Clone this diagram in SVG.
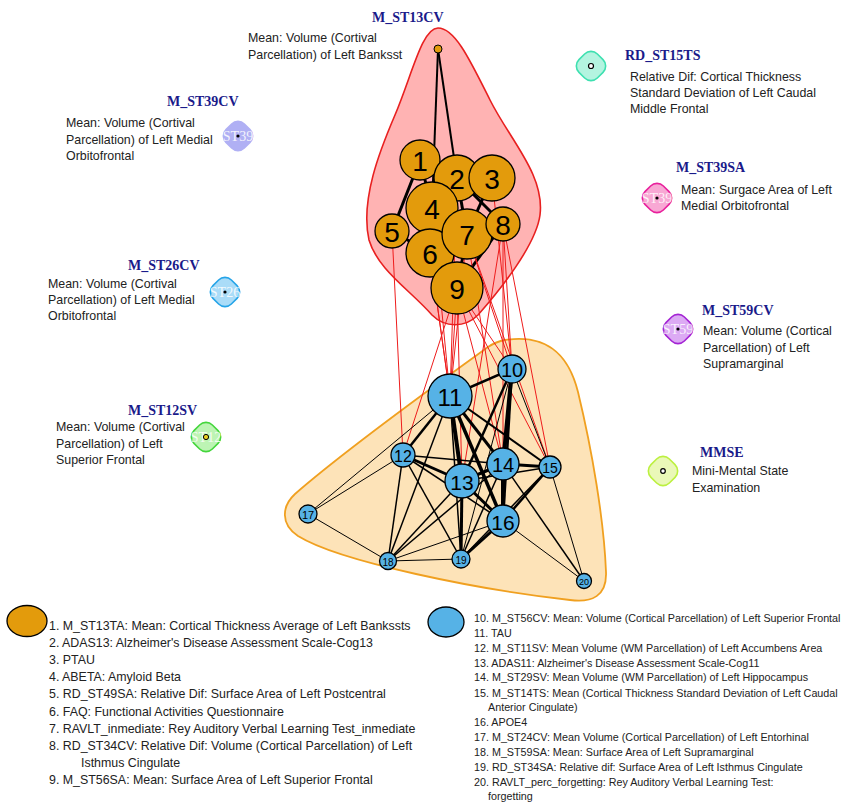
<svg xmlns="http://www.w3.org/2000/svg" width="845" height="802" viewBox="0 0 845 802">
<style>
.bg{fill:#ffffff}
.hull1{fill:#ffb3b3;stroke:#e82020;stroke-width:1.6}
.hull2{fill:#fde3b8;stroke:#f0a020;stroke-width:1.8}
.re{stroke:#ee1c1c;stroke-width:1;fill:none}
.be{stroke:#000;fill:none}
.on{fill:#e39b0c;stroke:#000;stroke-width:1.3}
.bn{fill:#56b2e6;stroke:#000;stroke-width:1.3}
.num{font-family:"Liberation Sans",Arial,sans-serif;fill:#000;text-anchor:middle;dominant-baseline:central}
.ttl{font-family:"Liberation Serif","Times New Roman",serif;font-weight:bold;font-size:14px;fill:#1a1a8a}
.dsc{font-family:"Liberation Sans",Arial,sans-serif;font-size:12.4px;fill:#222}
.iso{stroke-width:1.6}
.st{font-family:"Liberation Serif","Times New Roman",serif;font-size:14px;fill:#ffffff;text-anchor:middle;dominant-baseline:central;opacity:0.85}
.lg1{font-family:"Liberation Sans",Arial,sans-serif;font-size:12.4px;fill:#222}
.lg2{font-family:"Liberation Sans",Arial,sans-serif;font-size:10.75px;fill:#222}
</style>
<rect class="bg" x="0" y="0" width="845" height="802"/>

<g id="hull-cluster1">
<path class="hull1" d="M438,28 C455,28 470,60 490,100 C510,140 545,175 540,215 C536,245 500,290 478,315 C465,328 445,328 432,315 C410,290 378,270 369,240 C360,200 380,150 395,115 C412,75 422,28 438,28 Z"/>
</g>
<g id="hull-cluster2">
<path class="hull2" d="M505,340 C545,334 568,352 578,392 C592,450 604,520 606,572 C607,596 592,603 570,600 C480,590 340,562 298,536 C280,524 282,506 295,494 C350,446 440,382 488,347 C494,343 499,341 505,340 Z"/>
</g>

<g id="connectors">
<line class="be" stroke-width="2" x1="438" y1="49" x2="432" y2="208"/>
<line class="be" stroke-width="2" x1="438" y1="49" x2="457" y2="178"/>
<line class="be" stroke-width="3" x1="420" y1="160" x2="392" y2="231"/>
<line class="be" stroke-width="3" x1="420" y1="160" x2="432" y2="208"/>
<line class="be" stroke-width="3" x1="457" y1="178" x2="467" y2="234"/>
<line class="be" stroke-width="3" x1="492" y1="178" x2="467" y2="234"/>
<line class="be" stroke-width="3" x1="457" y1="178" x2="503" y2="224"/>
<line class="be" stroke-width="3" x1="432" y1="208" x2="503" y2="224"/>
<line class="be" stroke-width="3" x1="503" y1="224" x2="457" y2="288"/>
<line class="be" stroke-width="3" x1="430" y1="253" x2="457" y2="288"/>
<line class="be" stroke-width="3" x1="467" y1="234" x2="457" y2="288"/>
<line class="be" stroke-width="3" x1="392" y1="231" x2="430" y2="253"/>
<line class="re" x1="392" y1="231" x2="403" y2="455"/>
<line class="re" x1="432" y1="208" x2="450" y2="396"/>
<line class="re" x1="430" y1="253" x2="450" y2="396"/>
<line class="re" x1="457" y1="288" x2="450" y2="396"/>
<line class="re" x1="467" y1="234" x2="450" y2="396"/>
<line class="re" x1="457" y1="178" x2="450" y2="396"/>
<line class="re" x1="457" y1="288" x2="512" y2="369"/>
<line class="re" x1="467" y1="234" x2="512" y2="369"/>
<line class="re" x1="503" y1="224" x2="512" y2="369"/>
<line class="re" x1="492" y1="178" x2="512" y2="369"/>
<line class="re" x1="457" y1="288" x2="462" y2="481"/>
<line class="re" x1="430" y1="253" x2="462" y2="481"/>
<line class="re" x1="503" y1="224" x2="462" y2="481"/>
<line class="re" x1="467" y1="234" x2="503" y2="464"/>
<line class="re" x1="457" y1="288" x2="503" y2="464"/>
<line class="re" x1="503" y1="224" x2="503" y2="464"/>
<line class="re" x1="467" y1="234" x2="550" y2="467"/>
<line class="re" x1="503" y1="224" x2="550" y2="467"/>
<line class="re" x1="457" y1="288" x2="550" y2="467"/>
<line class="re" x1="457" y1="288" x2="403" y2="455"/>
<line class="be" stroke-width="2.5" x1="450" y1="396" x2="512" y2="369"/>
<line class="be" stroke-width="2.5" x1="450" y1="396" x2="403" y2="455"/>
<line class="be" stroke-width="4" x1="450" y1="396" x2="462" y2="481"/>
<line class="be" stroke-width="3" x1="450" y1="396" x2="503" y2="464"/>
<line class="be" stroke-width="3.5" x1="450" y1="396" x2="503" y2="521"/>
<line class="be" stroke-width="2" x1="450" y1="396" x2="550" y2="467"/>
<line class="be" stroke-width="1" x1="450" y1="396" x2="308" y2="514"/>
<line class="be" stroke-width="1.5" x1="450" y1="396" x2="388" y2="561"/>
<line class="be" stroke-width="1.5" x1="450" y1="396" x2="461" y2="559"/>
<line class="be" stroke-width="4" x1="512" y1="369" x2="503" y2="464"/>
<line class="be" stroke-width="2.5" x1="512" y1="369" x2="462" y2="481"/>
<line class="be" stroke-width="2.5" x1="512" y1="369" x2="503" y2="521"/>
<line class="be" stroke-width="1" x1="512" y1="369" x2="550" y2="467"/>
<line class="be" stroke-width="1" x1="512" y1="369" x2="461" y2="559"/>
<line class="be" stroke-width="3" x1="403" y1="455" x2="462" y2="481"/>
<line class="be" stroke-width="1.5" x1="403" y1="455" x2="503" y2="464"/>
<line class="be" stroke-width="1.5" x1="403" y1="455" x2="503" y2="521"/>
<line class="be" stroke-width="1" x1="403" y1="455" x2="308" y2="514"/>
<line class="be" stroke-width="1.5" x1="403" y1="455" x2="388" y2="561"/>
<line class="be" stroke-width="1.5" x1="403" y1="455" x2="461" y2="559"/>
<line class="be" stroke-width="3" x1="462" y1="481" x2="503" y2="464"/>
<line class="be" stroke-width="3" x1="462" y1="481" x2="503" y2="521"/>
<line class="be" stroke-width="3" x1="462" y1="481" x2="461" y2="559"/>
<line class="be" stroke-width="1.5" x1="462" y1="481" x2="388" y2="561"/>
<line class="be" stroke-width="1.5" x1="462" y1="481" x2="550" y2="467"/>
<line class="be" stroke-width="3" x1="503" y1="464" x2="550" y2="467"/>
<line class="be" stroke-width="4" x1="503" y1="464" x2="503" y2="521"/>
<line class="be" stroke-width="1.5" x1="503" y1="464" x2="388" y2="561"/>
<line class="be" stroke-width="1.5" x1="503" y1="464" x2="461" y2="559"/>
<line class="be" stroke-width="1.5" x1="503" y1="464" x2="584" y2="581"/>
<line class="be" stroke-width="2.5" x1="550" y1="467" x2="503" y2="521"/>
<line class="be" stroke-width="1.5" x1="550" y1="467" x2="461" y2="559"/>
<line class="be" stroke-width="1" x1="550" y1="467" x2="584" y2="581"/>
<line class="be" stroke-width="3" x1="503" y1="521" x2="461" y2="559"/>
<line class="be" stroke-width="1" x1="503" y1="521" x2="388" y2="561"/>
<line class="be" stroke-width="1" x1="503" y1="521" x2="584" y2="581"/>
<line class="be" stroke-width="1" x1="308" y1="514" x2="388" y2="561"/>
<line class="be" stroke-width="1" x1="388" y1="561" x2="461" y2="559"/>
</g>

<g id="node-M_ST13CV">
<circle cx="438" cy="49" r="4" fill="#e39b0c" stroke="#000" stroke-width="1"/>
<text class="ttl" x="372" y="22">M_ST13CV</text>
<text class="dsc" x="248" y="42">Mean: Volume (Cortival</text>
<text class="dsc" x="248" y="59">Parcellation) of Left Banksst</text>
</g>

<g id="node-1"><circle class="on" cx="420" cy="160" r="20"/><text class="num" x="420" y="161" font-size="28">1</text></g>
<g id="node-2"><circle class="on" cx="457" cy="178" r="23"/><text class="num" x="457" y="179" font-size="28">2</text></g>
<g id="node-3"><circle class="on" cx="492" cy="178" r="23"/><text class="num" x="492" y="179" font-size="28">3</text></g>
<g id="node-4"><circle class="on" cx="432" cy="208" r="26"/><text class="num" x="432" y="209" font-size="28">4</text></g>
<g id="node-6"><circle class="on" cx="430" cy="253" r="24"/><text class="num" x="430" y="254" font-size="28">6</text></g>
<g id="node-5"><circle class="on" cx="392" cy="231" r="17"/><text class="num" x="392" y="232" font-size="28">5</text></g>
<g id="node-7"><circle class="on" cx="467" cy="234" r="25"/><text class="num" x="467" y="235" font-size="28">7</text></g>
<g id="node-8"><circle class="on" cx="503" cy="224" r="17"/><text class="num" x="503" y="225" font-size="28">8</text></g>
<g id="node-9"><circle class="on" cx="457" cy="288" r="26"/><text class="num" x="457" y="289" font-size="28">9</text></g>

<g id="node-10"><circle class="bn" cx="512" cy="369" r="14"/><text class="num" x="512" y="370" font-size="20">10</text></g>
<g id="node-11"><circle class="bn" cx="450" cy="396" r="22"/><text class="num" x="450" y="397" font-size="24">11</text></g>
<g id="node-12"><circle class="bn" cx="403" cy="455" r="12"/><text class="num" x="403" y="456" font-size="16">12</text></g>
<g id="node-14"><circle class="bn" cx="503" cy="464" r="16"/><text class="num" x="503" y="465" font-size="20">14</text></g>
<g id="node-13"><circle class="bn" cx="462" cy="481" r="17"/><text class="num" x="462" y="482" font-size="21">13</text></g>
<g id="node-15"><circle class="bn" cx="550" cy="467" r="11"/><text class="num" x="550" y="468" font-size="14">15</text></g>
<g id="node-16"><circle class="bn" cx="503" cy="521" r="16"/><text class="num" x="503" y="522" font-size="21">16</text></g>
<g id="node-17"><circle class="bn" cx="308" cy="514" r="9"/><text class="num" x="308" y="515" font-size="11">17</text></g>
<g id="node-18"><circle class="bn" cx="388" cy="561" r="8.5"/><text class="num" x="388" y="562" font-size="10">18</text></g>
<g id="node-19"><circle class="bn" cx="461" cy="559" r="9"/><text class="num" x="461" y="560" font-size="10">19</text></g>
<g id="node-20"><circle class="bn" cx="584" cy="581" r="7.5"/><text class="num" x="584" y="582" font-size="9">20</text></g>

<g id="node-M_ST39CV">
<rect class="iso" x="-13" y="-13" width="26" height="26" rx="9" fill="#b0b0f4" stroke="#b0b0f4" transform="translate(238,136) rotate(45)"/>
<text class="st" x="238" y="136">ST39</text>
<circle cx="238" cy="136" r="1.6" fill="#000"/>
<text class="ttl" x="167" y="106">M_ST39CV</text>
<text class="dsc" x="66" y="127">Mean: Volume (Cortival</text>
<text class="dsc" x="66" y="144">Parcellation) of Left Medial</text>
<text class="dsc" x="66" y="160">Orbitofrontal</text>
</g>

<g id="node-RD_ST15TS">
<rect class="iso" x="-13" y="-13" width="26" height="26" rx="9" fill="#b4f4e0" stroke="#3ee0b0" transform="translate(591,66) rotate(45)"/>
<circle cx="591" cy="66" r="2.5" fill="#fff" stroke="#000" stroke-width="1.2"/>
<text class="ttl" x="625" y="60">RD_ST15TS</text>
<text class="dsc" x="630" y="81">Relative Dif: Cortical Thickness</text>
<text class="dsc" x="630" y="97">Standard Deviation of Left Caudal</text>
<text class="dsc" x="630" y="113">Middle Frontal</text>
</g>

<g id="node-M_ST39SA">
<rect class="iso" x="-13" y="-13" width="26" height="26" rx="9" fill="#f8a8d4" stroke="#e8209c" transform="translate(657,198) rotate(45)"/>
<text class="st" x="657" y="198">ST39</text>
<circle cx="657" cy="198" r="1.6" fill="#000"/>
<text class="ttl" x="676" y="172">M_ST39SA</text>
<text class="dsc" x="681" y="194">Mean: Surgace Area of Left</text>
<text class="dsc" x="681" y="210">Medial Orbitofrontal</text>
</g>

<g id="node-M_ST26CV">
<rect class="iso" x="-13" y="-13" width="26" height="26" rx="9" fill="#aadcf8" stroke="#25a4e8" transform="translate(225,292) rotate(45)"/>
<text class="st" x="225" y="292">ST26</text>
<circle cx="225" cy="292" r="1.6" fill="#000"/>
<text class="ttl" x="128" y="270">M_ST26CV</text>
<text class="dsc" x="48" y="288">Mean: Volume (Cortival</text>
<text class="dsc" x="48" y="304">Parcellation) of Left Medial</text>
<text class="dsc" x="48" y="320">Orbitofrontal</text>
</g>

<g id="node-M_ST12SV">
<rect class="iso" x="-13" y="-13" width="26" height="26" rx="9" fill="#bdf4b4" stroke="#44d63c" transform="translate(206,437) rotate(45)"/>
<text class="st" x="206" y="437">ST12</text>
<circle cx="206" cy="437" r="2.6" fill="#e8d020" stroke="#000" stroke-width="1"/>
<text class="ttl" x="128" y="415">M_ST12SV</text>
<text class="dsc" x="56" y="431">Mean: Volume (Cortival</text>
<text class="dsc" x="56" y="448">Parcellation) of Left</text>
<text class="dsc" x="56" y="464">Superior Frontal</text>
</g>

<g id="node-M_ST59CV">
<rect class="iso" x="-13" y="-13" width="26" height="26" rx="9" fill="#dcaaf4" stroke="#a424d4" transform="translate(678,329) rotate(45)"/>
<text class="st" x="678" y="329">ST59</text>
<circle cx="678" cy="329" r="1.6" fill="#000"/>
<text class="ttl" x="702" y="315">M_ST59CV</text>
<text class="dsc" x="703" y="335">Mean: Volume (Cortical</text>
<text class="dsc" x="703" y="352">Parcellation) of Left</text>
<text class="dsc" x="703" y="368">Supramarginal</text>
</g>

<g id="node-MMSE">
<rect class="iso" x="-13" y="-13" width="26" height="26" rx="9" fill="#eaf8b8" stroke="#bcf040" transform="translate(663,471) rotate(45)"/>
<circle cx="663" cy="471" r="2.3" fill="#fff" stroke="#000" stroke-width="1.2"/>
<text class="ttl" x="700" y="457">MMSE</text>
<text class="dsc" x="692" y="475">Mini-Mental State</text>
<text class="dsc" x="692" y="492">Examination</text>
</g>

<g id="legend-cluster1">
<ellipse cx="27" cy="621" rx="20" ry="15.5" fill="#e39b0c" stroke="#000" stroke-width="1.3"/>
<text class="lg1" x="49" y="630">1. M_ST13TA: Mean: Cortical Thickness Average of Left Bankssts</text>
<text class="lg1" x="49" y="647">2. ADAS13: Alzheimer's Disease Assessment Scale-Cog13</text>
<text class="lg1" x="49" y="664">3. PTAU</text>
<text class="lg1" x="49" y="681">4. ABETA: Amyloid Beta</text>
<text class="lg1" x="49" y="698">5. RD_ST49SA: Relative Dif: Surface Area of Left Postcentral</text>
<text class="lg1" x="49" y="716">6. FAQ: Functional Activities Questionnaire</text>
<text class="lg1" x="49" y="733">7. RAVLT_inmediate: Rey Auditory Verbal Learning Test_inmediate</text>
<text class="lg1" x="49" y="750">8. RD_ST34CV: Relative Dif: Volume (Cortical Parcellation) of Left</text>
<text class="lg1" x="81" y="767">Isthmus Cingulate</text>
<text class="lg1" x="49" y="784">9. M_ST56SA: Mean: Surface Area of Left Superior Frontal</text>
</g>

<g id="legend-cluster2">
<ellipse cx="446" cy="622" rx="18" ry="15" fill="#56b2e6" stroke="#000" stroke-width="1.3"/>
<text class="lg2" x="474" y="622">10. M_ST56CV: Mean: Volume (Cortical Parcellation) of Left Superior Frontal</text>
<text class="lg2" x="474" y="637">11. TAU</text>
<text class="lg2" x="474" y="652">12. M_ST11SV: Mean Volume (WM Parcellation) of Left Accumbens Area</text>
<text class="lg2" x="474" y="667">13. ADAS11: Alzheimer's Disease Assessment Scale-Cog11</text>
<text class="lg2" x="474" y="681">14. M_ST29SV: Mean Volume (WM Parcellation) of Left Hippocampus</text>
<text class="lg2" x="474" y="697">15. M_ST14TS: Mean (Cortical Thickness Standard Deviation of Left Caudal</text>
<text class="lg2" x="488" y="711">Anterior Cingulate)</text>
<text class="lg2" x="474" y="726">16. APOE4</text>
<text class="lg2" x="474" y="741">17. M_ST24CV: Mean Volume (Cortical Parcellation) of Left Entorhinal</text>
<text class="lg2" x="474" y="756">18. M_ST59SA: Mean: Surface Area of Left Supramarginal</text>
<text class="lg2" x="474" y="771">19. RD_ST34SA: Relative dif: Surface Area of Left Isthmus Cingulate</text>
<text class="lg2" x="474" y="786">20. RAVLT_perc_forgetting: Rey Auditory Verbal Learning Test:</text>
<text class="lg2" x="488" y="800">forgetting</text>
</g>
</svg>
